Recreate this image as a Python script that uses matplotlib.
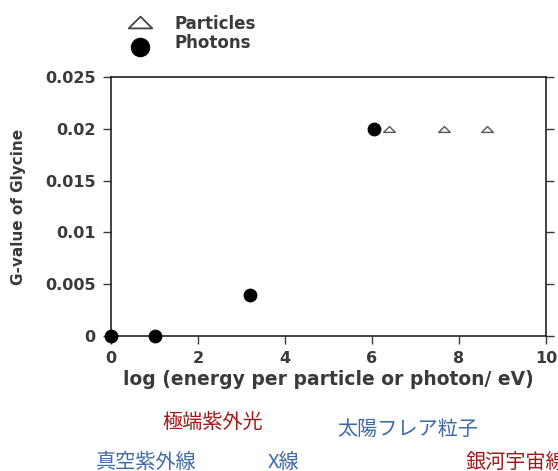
import matplotlib
matplotlib.use("Agg")
import matplotlib.pyplot as plt
from matplotlib.lines import Line2D
from matplotlib.path import Path

photon_x = [0, 1.0, 3.2, 6.05]
photon_y = [0, 0, 0.004, 0.02]
particle_x = [6.4, 7.65, 8.65]
particle_y = [0.02, 0.02, 0.02]
xticks = [0, 2, 4, 6, 8, 10]
yticks = [0, 0.005, 0.01, 0.015, 0.02, 0.025]
ytick_labels = ["0", "0.005", "0.01", "0.015", "0.02", "0.025"]
legend_labels = ["Particles", "Photons"]
notes = [
    ("極端紫外光", "#a01818"),
    ("太陽フレア粒子", "#3c6ba5"),
    ("真空紫外線", "#3c6ba5"),
    ("X線", "#3c6ba5"),
    ("銀河宇宙線", "#a01818"),
]
note_pos = [(213, 422), (408, 429), (146, 462), (283, 462), (466, 462)]

flat_tri = Path([(-1, -0.5), (1, -0.5), (0, 0.5), (-1, -0.5)],
                [Path.MOVETO, Path.LINETO, Path.LINETO, Path.CLOSEPOLY])

W, H = 558, 471
FONT = "DejaVu Sans"
GREY = "#3a3a3a"
fig = plt.figure(figsize=(W / 100, H / 100), dpi=100)
ax = fig.add_axes([111 / W, 1 - 336 / H, (546 - 111) / W, (336 - 77) / H])

ax.scatter(photon_x, photon_y, s=80, color="black", zorder=3, clip_on=False)
ax.scatter(particle_x, particle_y, s=70, marker=flat_tri, facecolors="white",
           edgecolors="#555555", linewidths=1.0, zorder=2, clip_on=False)

ax.set_xlim(0, 10)
ax.set_ylim(0, 0.025)
ax.set_xticks(xticks)
ax.set_xticklabels([str(v) for v in xticks])
ax.set_yticks(yticks)
ax.set_yticklabels(ytick_labels)
ax.tick_params(axis="both", direction="out", length=6, width=1.0,
               colors=GREY, labelsize=11.5, pad=5)
ax.tick_params(axis="y", right=True)
for lab in ax.get_xticklabels() + ax.get_yticklabels():
    lab.set_fontweight("bold")
    lab.set_family(FONT)
for sp in ax.spines.values():
    sp.set_color("#222222")
    sp.set_linewidth(1.2)

ax.set_xlabel("log (energy per particle or photon/ eV)", fontsize=13.5,
              fontweight="bold", color=GREY, family=FONT, labelpad=3)
ax.set_ylabel("G-value of Glycine", fontsize=11, fontweight="bold",
              color=GREY, family=FONT, labelpad=14)

# legend above axes
fig.add_artist(Line2D([140 / W], [1 - 22 / H], marker=flat_tri, markersize=17,
                      markerfacecolor="white", markeredgecolor="#444444",
                      markeredgewidth=1.3, linestyle="none",
                      transform=fig.transFigure))
fig.add_artist(Line2D([140 / W], [1 - 47 / H], marker="o", markersize=13,
                      color="black", linestyle="none",
                      transform=fig.transFigure))
fig.text(175 / W, 1 - 24 / H, legend_labels[0], fontsize=12, fontweight="bold",
         color=GREY, va="center", family=FONT)
fig.text(175 / W, 1 - 43 / H, legend_labels[1], fontsize=12, fontweight="bold",
         color=GREY, va="center", family=FONT)

for (txt, col), (px, py) in zip(notes, note_pos):
    fig.text(px / W, 1 - py / H, txt, fontsize=14.5, color=col,
             ha="center" if px < 460 else "left", va="center",
             family=["Noto Sans CJK JP", "DejaVu Sans"])

fig.savefig("out.png", dpi=100, facecolor="white")
